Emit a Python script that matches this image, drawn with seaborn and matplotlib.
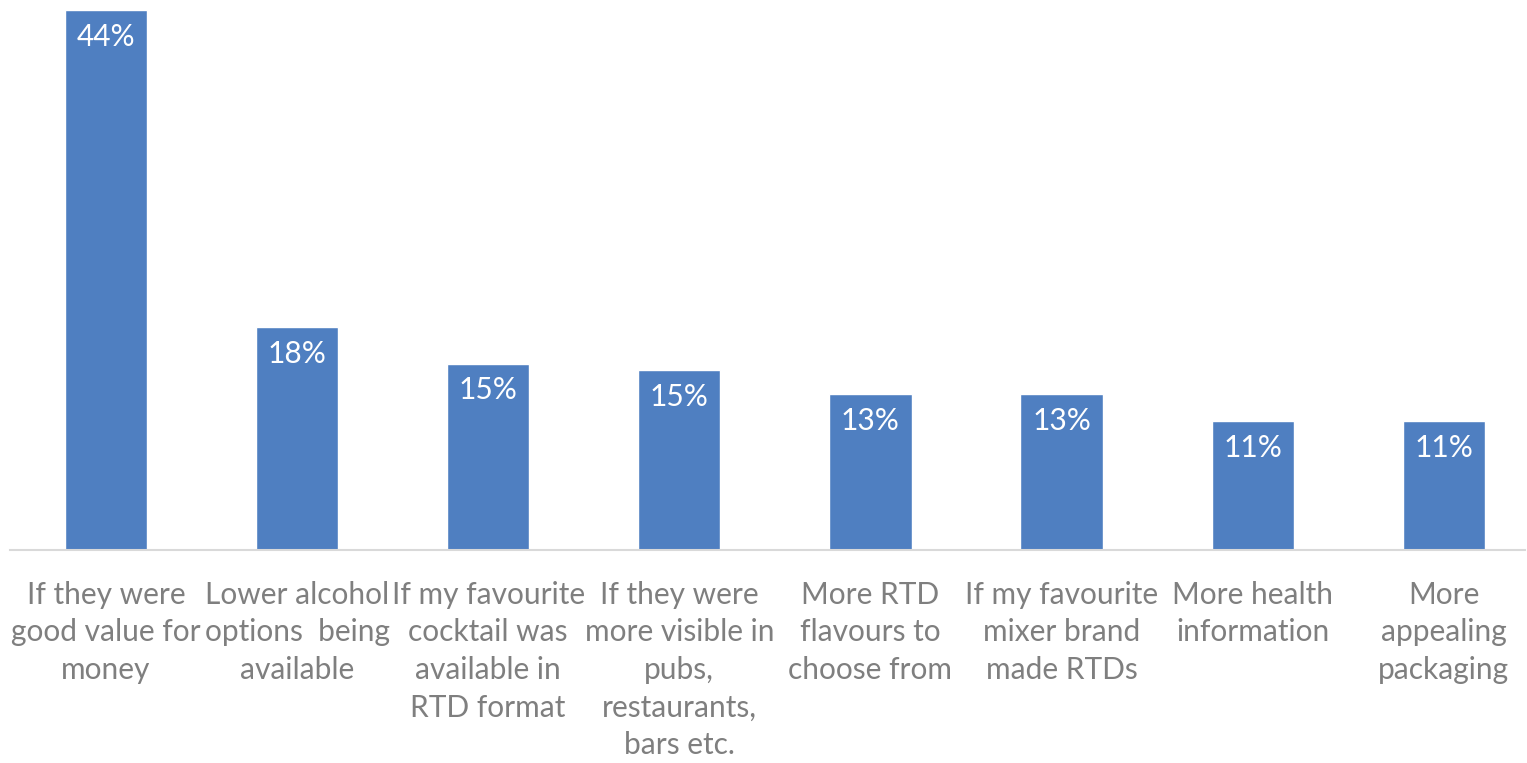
import pandas as pd
import matplotlib.pyplot as plt
import seaborn as sns

# data
categories = ['If they were\ngood value for\nmoney',
              'Lower alcohol\noptions  being\navailable',
              'If my favourite\ncocktail was\navailable in\nRTD format',
              'If they were\nmore visible in\npubs,\nrestaurants,\nbars etc.',
              'More RTD\nflavours to\nchoose from',
              'If my favourite\nmixer brand\nmade RTDs',
              'More health\ninformation',
              'More\nappealing\npackaging']
values = [0.444, 0.183, 0.153, 0.148, 0.128, 0.128, 0.106, 0.106]

df = pd.DataFrame({'reason': categories, 'share': values})

sns.set_style('white')
plt.rcParams['font.family'] = ['Lato', 'DejaVu Sans']

fig = plt.figure(figsize=(15.27, 7.63), dpi=100)
ax = fig.add_axes([10/1527, 1-550/763, 1515/1527, 540/763])

sns.barplot(data=df, x='reason', y='share', color='#4F7FC1', saturation=1,
            width=0.43, ax=ax)

ax.set_xlim(-0.502, 7.425)
ax.set_ylim(0, 0.444)

# percent labels inside bar tops
labels = ax.bar_label(ax.containers[0], labels=[f'{v*100:.0f}%' for v in values],
                      padding=-9, color='white', fontsize=21.5)
for t in labels:
    t.set_va('top')

ax.set_xlabel('')
ax.set_ylabel('')
ax.set_yticks([])
for s in ['left', 'right', 'top']:
    ax.spines[s].set_visible(False)
ax.spines['bottom'].set_color('#D9D9D9')
ax.spines['bottom'].set_linewidth(1.5)
ax.tick_params(axis='x', length=0, pad=22, labelsize=21.5, labelcolor='#7F7F7F')
for t in ax.get_xticklabels():
    t.set_linespacing(1.42)

fig.savefig('out.png', dpi=100)
